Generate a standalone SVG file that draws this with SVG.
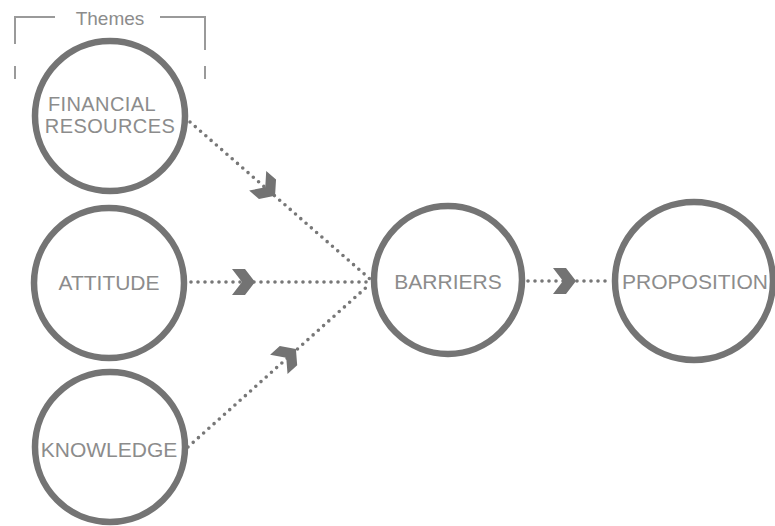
<svg xmlns="http://www.w3.org/2000/svg" width="775" height="526" viewBox="0 0 775 526">
  <style>
    .ring { fill: #ffffff; stroke: #747474; stroke-width: 6.5; }
    .label { font-family: "Liberation Sans", Arial, sans-serif; font-size: 21px; fill: #8c8c8c; text-anchor: middle; }
    .label.small { font-size: 20px; letter-spacing: 0.4px; }
    .theme { font-family: "Liberation Sans", Arial, sans-serif; font-size: 19px; fill: #8c8c8c; text-anchor: middle; }
    .bracket { fill: none; stroke: #9a9a9a; stroke-width: 2; }
    .dots { fill: none; stroke: #777777; stroke-width: 3.6; stroke-linecap: round; stroke-dasharray: 0 7; }
    .chev { fill: #737373; }
  </style>
  <defs>
    <polygon id="chevron" points="-11,-13 2,-13 12,0 2,13 -11,13 -1,0"/>
  </defs>

  <rect width="775" height="526" fill="#ffffff"/>

  <!-- Themes bracket over the first column -->
  <g id="themes">
    <path class="bracket" d="M15,44 V17 H55 M15,66 V79"/>
    <path class="bracket" d="M160,17 H205 V50 M205,66 V79"/>
    <text class="theme" x="110" y="25">Themes</text>
  </g>

  <!-- dotted connectors with chevrons -->
  <g id="connectors">
    <path class="dots" d="M190,122 L370,279"/>
    <path class="dots" d="M191,282 L370,282"/>
    <path class="dots" d="M188,447 L370,284"/>
    <path class="dots" d="M528,281 L612,281"/>
    <use href="#chevron" class="chev" transform="translate(266,188) rotate(41)"/>
    <use href="#chevron" class="chev" transform="translate(243,282)"/>
    <use href="#chevron" class="chev" transform="translate(287,357) rotate(-42)"/>
    <use href="#chevron" class="chev" transform="translate(564,281)"/>
  </g>

  <g id="financial">
    <circle class="ring" cx="110" cy="116" r="75"/>
    <text class="label small" x="102" y="111">FINANCIAL</text>
    <text class="label small" x="110" y="133">RESOURCES</text>
  </g>

  <g id="attitude">
    <circle class="ring" cx="109" cy="283" r="75"/>
    <text class="label" x="109" y="290">ATTITUDE</text>
  </g>

  <g id="knowledge">
    <circle class="ring" cx="110" cy="447" r="75"/>
    <text class="label" x="109" y="457">KNOWLEDGE</text>
  </g>

  <g id="barriers">
    <circle class="ring" cx="448" cy="280" r="74"/>
    <text class="label" x="448" y="289">BARRIERS</text>
  </g>

  <g id="proposition">
    <circle class="ring" cx="694" cy="281" r="79"/>
    <text class="label" x="695" y="289">PROPOSITION</text>
  </g>
</svg>
